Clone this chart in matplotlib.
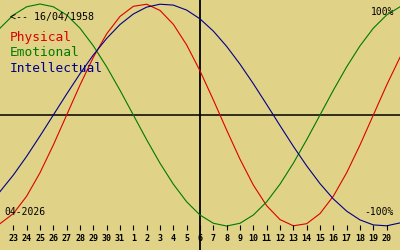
# Biorhythm chart, birth 16/04/1958, centred on 6 April 2026
import matplotlib
matplotlib.use("Agg")
import matplotlib.pyplot as plt
import numpy as np

# day index 0 = 22 March 2026 ... 30 = 21 April 2026
dias = np.arange(31)
etiquetas = ["23", "24", "25", "26", "27", "28", "29", "30", "31",
             "1", "2", "3", "4", "5", "6", "7", "8", "9", "10", "11", "12",
             "13", "14", "15", "16", "17", "18", "19", "20"]

fisico = [-0.979, -0.888, -0.731, -0.520, -0.270, 0.0, 0.270, 0.520, 0.731, 0.888,
          0.979, 0.998, 0.942, 0.817, 0.631, 0.398, 0.136, -0.136, -0.398, -0.631,
          -0.817, -0.942, -0.998, -0.979, -0.888, -0.731, -0.520, -0.270, 0.0, 0.270, 0.520]
emocional = [0.782, 0.901, 0.975, 1.000, 0.975, 0.901, 0.782, 0.623, 0.434, 0.223,
             0.0, -0.223, -0.434, -0.623, -0.782, -0.901, -0.975, -1.000, -0.975, -0.901,
             -0.782, -0.623, -0.434, -0.223, 0.0, 0.223, 0.434, 0.623, 0.782, 0.901, 0.975]
intelectual = [-0.690, -0.541, -0.372, -0.189, 0.0, 0.189, 0.372, 0.541, 0.690, 0.815,
               0.910, 0.972, 0.998, 0.990, 0.945, 0.866, 0.756, 0.618, 0.458, 0.282,
               0.095, -0.095, -0.282, -0.458, -0.618, -0.756, -0.866, -0.945, -0.990, -0.998, -0.972]

fondo = "#e0d287"
rojo = "#dd0000"
verde = "#007a00"
azul = "#000088"
mono = "DejaVu Sans Mono"

fig = plt.figure(figsize=(4, 2.5), dpi=100, facecolor=fondo)
ax = fig.add_axes([0, 0, 1, 1])
ax.set_facecolor(fondo)
ax.set_xlim(0, 30)
ax.set_ylim(-1.216, 1.036)
ax.axis("off")

# ejes centrales
ax.axhline(0, color="black", lw=1.1)
ax.axvline(15, color="black", lw=1.3)

ax.plot(dias, fisico, color=rojo, lw=0.8)
ax.plot(dias, emocional, color=verde, lw=0.8)
ax.plot(dias, intelectual, color=azul, lw=0.8)

# marcas de los dias
pos = np.arange(1, len(etiquetas) + 1)
ax.vlines(pos, -1.036, -0.99, color="black", lw=0.8)
for p, t in zip(pos, etiquetas):
    ax.text(p, -1.11, t, ha="center", va="center", fontsize=6,
            family=mono, fontweight="bold")

# textos
ax.text(10 / 400, 1 - 17 / 250, "<-- 16/04/1958", transform=ax.transAxes,
        fontsize=7.2, family=mono, va="center", ha="left")
ax.text(10 / 400, 1 - 38 / 250, "Physical", color=rojo, transform=ax.transAxes,
        fontsize=9.3, family=mono, va="center", ha="left")
ax.text(10 / 400, 1 - 53 / 250, "Emotional", color=verde, transform=ax.transAxes,
        fontsize=9.3, family=mono, va="center", ha="left")
ax.text(10 / 400, 1 - 68 / 250, "Intellectual", color=azul, transform=ax.transAxes,
        fontsize=9.3, family=mono, va="center", ha="left")
ax.text(394 / 400, 1 - 12 / 250, "100%", transform=ax.transAxes,
        fontsize=7, family=mono, va="center", ha="right")
ax.text(394 / 400, 1 - 212 / 250, "-100%", transform=ax.transAxes,
        fontsize=7, family=mono, va="center", ha="right")
ax.text(4 / 400, 1 - 212 / 250, "04-2026", transform=ax.transAxes,
        fontsize=7, family=mono, va="center", ha="left")

fig.savefig("out.png", dpi=100, facecolor=fondo)
